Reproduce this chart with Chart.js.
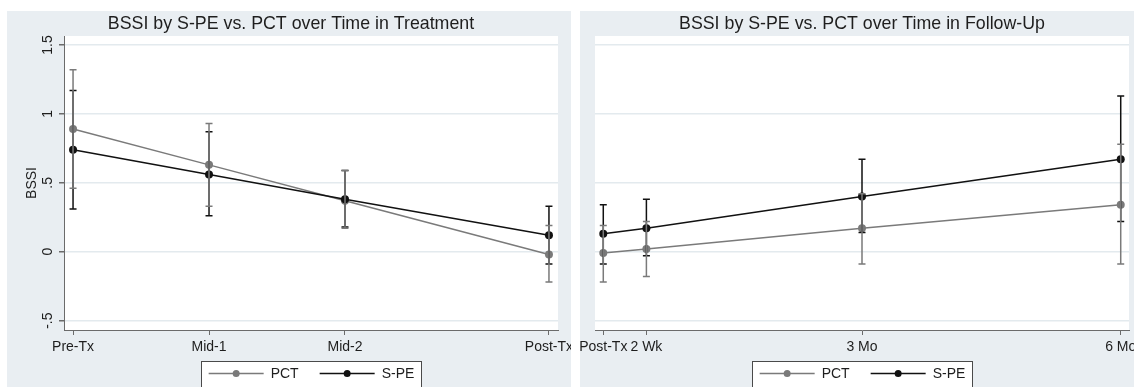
<!DOCTYPE html>
<html>
<head>
<meta charset="utf-8">
<script src="https://cdn.jsdelivr.net/npm/chart.js@4"></script>
<style>
  body { margin: 0; background: #fff; width: 1134px; height: 387px; overflow: hidden; position: relative; }
  canvas { position: absolute; background: #e9eef2; }
  #left { left: 7px; top: 11px; }
  #right { left: 580px; top: 11px; }
</style>
</head>
<body>
<canvas id="left" width="564" height="376"></canvas>
<canvas id="right" width="554" height="376"></canvas>
<script>
// y axis (shared)
const yTickValues = [-0.5, 0, 0.5, 1, 1.5];
const yTickLabels = ['-.5', '0', '.5', '1', '1.5'];

// treatment phase
const txTimes = [0, 1, 2, 3.5];
const txLabels = ['Pre-Tx', 'Mid-1', 'Mid-2', 'Post-Tx'];
const pctTx = [0.89, 0.63, 0.37, -0.02];
const pctTxLow = [0.46, 0.33, 0.17, -0.22];
const pctTxHigh = [1.32, 0.93, 0.59, 0.19];
const speTx = [0.74, 0.56, 0.38, 0.12];
const speTxLow = [0.31, 0.26, 0.18, -0.09];
const speTxHigh = [1.17, 0.87, 0.59, 0.33];

// follow-up phase (weeks after treatment)
const fuTimes = [0, 2, 12, 24];
const fuLabels = ['Post-Tx', '2 Wk', '3 Mo', '6 Mo'];
const pctFu = [-0.01, 0.02, 0.17, 0.34];
const pctFuLow = [-0.22, -0.18, -0.09, -0.09];
const pctFuHigh = [0.19, 0.22, 0.42, 0.78];
const speFu = [0.13, 0.17, 0.40, 0.67];
const speFuLow = [-0.09, -0.03, 0.14, 0.22];
const speFuHigh = [0.34, 0.38, 0.67, 1.13];

const FONT = "'Liberation Sans', Arial, sans-serif";
const PCT_COLOR = '#7a7a7a';
const SPE_COLOR = '#111111';
const AXIS_COLOR = '#6b6b6b';
const GRID_COLOR = '#e3eaee';
const TEXT_COLOR = '#1e1e1e';

function pts(xs, ys) {
    return xs.map((x, i) => ({ x: x, y: ys[i] }));
}

// white plot region
const plotBg = {
    id: 'plotBg',
    beforeDraw(chart) {
        const a = chart.chartArea;
        chart.ctx.save();
        chart.ctx.fillStyle = '#ffffff';
        chart.ctx.fillRect(a.left, a.top, a.right - a.left, a.bottom - a.top);
        chart.ctx.restore();
    }
};

// confidence bars, using the chart's own scales
const errorBars = {
    id: 'errorBars',
    afterDatasetsDraw(chart) {
        const ctx = chart.ctx;
        const xs = chart.scales.x, ys = chart.scales.y;
        ctx.save();
        chart.data.datasets.slice().reverse().forEach(ds => {
            ctx.strokeStyle = ds.borderColor;
            ctx.lineWidth = 1.5;
            ds.data.forEach((p, i) => {
                const px = xs.getPixelForValue(p.x);
                const lo = ys.getPixelForValue(ds.low[i]);
                const hi = ys.getPixelForValue(ds.high[i]);
                ctx.beginPath();
                ctx.moveTo(px, lo); ctx.lineTo(px, hi);
                ctx.moveTo(px - 3.5, lo); ctx.lineTo(px + 3.5, lo);
                ctx.moveTo(px - 3.5, hi); ctx.lineTo(px + 3.5, hi);
                ctx.stroke();
            });
        });
        ctx.restore();
    }
};

// Stata style boxed legend under the axis
const boxLegend = {
    id: 'boxLegend',
    afterDraw(chart) {
        const ctx = chart.ctx;
        const a = chart.chartArea;
        ctx.save();
        ctx.font = '14px ' + FONT;
        const items = chart.data.datasets.map(ds => ({ label: ds.label, color: ds.borderColor, w: ctx.measureText(ds.label).width }));
        const lineLen = 55, gapText = 7, gapItem = 21, pad = 6;
        let total = pad * 2;
        items.forEach((it, i) => { total += lineLen + gapText + it.w + (i ? gapItem : 0); });
        const boxW = Math.max(total, 220);
        const cx = (a.left + a.right) / 2;
        const bx = Math.round(cx - boxW / 2) + 0.5, by = 350.5;
        ctx.fillStyle = '#ffffff';
        ctx.fillRect(bx, by, boxW, 30);
        ctx.strokeStyle = '#4a4a4a';
        ctx.lineWidth = 1;
        ctx.strokeRect(bx, by, boxW, 30);
        let x = bx + (boxW - total) / 2 + pad;
        const cy = by + 12;
        items.forEach((it, i) => {
            if (i) x += gapItem;
            ctx.strokeStyle = it.color;
            ctx.lineWidth = 1.5;
            ctx.beginPath(); ctx.moveTo(x, cy); ctx.lineTo(x + lineLen, cy); ctx.stroke();
            ctx.fillStyle = it.color;
            ctx.beginPath(); ctx.arc(x + lineLen / 2, cy, 3.5, 0, Math.PI * 2); ctx.fill();
            x += lineLen + gapText;
            ctx.fillStyle = TEXT_COLOR;
            ctx.textBaseline = 'middle';
            ctx.fillText(it.label, x, cy + 1);
            x += it.w;
        });
        ctx.restore();
    }
};

function makeChart(id, title, times, labels, pct, pctLow, pctHigh, spe, speLow, speHigh, side) {
    const showY = side === 'left';
    const xMin = times[0] - (times[times.length - 1] - times[0]) * (showY ? 0.019 : 0.016);
    const xMax = times[times.length - 1] + (times[times.length - 1] - times[0]) * (showY ? 0.019 : 0.016);
    return new Chart(document.getElementById(id), {
        type: 'line',
        data: {
            datasets: [
                { label: 'PCT', data: pts(times, pct), low: pctLow, high: pctHigh,
                  borderColor: PCT_COLOR, backgroundColor: PCT_COLOR, borderWidth: 1.5,
                  pointRadius: 4, pointBorderWidth: 0, order: 1, tension: 0 },
                { label: 'S-PE', data: pts(times, spe), low: speLow, high: speHigh,
                  borderColor: SPE_COLOR, backgroundColor: SPE_COLOR, borderWidth: 1.5,
                  pointRadius: 4, pointBorderWidth: 0, order: 0, tension: 0 }
            ]
        },
        options: {
            responsive: false,
            animation: false,
            events: [],
            layout: { padding: showY ? { left: 17, right: 13, top: 0, bottom: 27 } : { left: 15, right: 5, top: 0, bottom: 27 } },
            plugins: {
                legend: { display: false },
                tooltip: { enabled: false },
                title: {
                    display: true, text: title, color: TEXT_COLOR,
                    font: { family: FONT, size: 17.8, weight: 'normal', lineHeight: 1.2 },
                    padding: { top: 2.5, bottom: 1.14 }
                }
            },
            scales: {
                x: {
                    type: 'linear', min: xMin, max: xMax,
                    afterBuildTicks: s => { s.ticks = times.map(v => ({ value: v })); },
                    afterFit: s => { s.height = 30; s.paddingLeft = 0; s.paddingRight = 0; },
                    grid: { drawOnChartArea: false, drawTicks: true, tickLength: 5, tickColor: AXIS_COLOR, tickWidth: 1 },
                    border: { display: true, color: AXIS_COLOR, width: 1 },
                    ticks: {
                        autoSkip: false, maxRotation: 0, minRotation: 0, padding: 4,
                        color: TEXT_COLOR, font: { family: FONT, size: 14 },
                        callback: v => labels[times.indexOf(v)]
                    }
                },
                y: {
                    min: -0.568, max: 1.565,
                    afterBuildTicks: s => { s.ticks = yTickValues.map(v => ({ value: v })); },
                    afterFit: s => { s.width = showY ? 40 : 0; s.paddingTop = 0; s.paddingBottom = 0; },
                    grid: { color: GRID_COLOR, lineWidth: 1.5, drawTicks: showY, tickLength: 5, tickColor: AXIS_COLOR },
                    border: { display: showY, color: AXIS_COLOR, width: 1 },
                    title: {
                        display: showY, text: 'BSSI', color: TEXT_COLOR,
                        font: { family: FONT, size: 14, lineHeight: 1.2 }, padding: 0
                    },
                    ticks: {
                        display: showY, minRotation: 90, maxRotation: 90, crossAlign: 'center', padding: 1,
                        color: TEXT_COLOR, font: { family: FONT, size: 14 },
                        callback: v => yTickLabels[yTickValues.indexOf(v)]
                    }
                }
            }
        },
        plugins: [plotBg, errorBars, boxLegend]
    });
}

makeChart('left', 'BSSI by S-PE vs. PCT over Time in Treatment', txTimes, txLabels,
    pctTx, pctTxLow, pctTxHigh, speTx, speTxLow, speTxHigh, 'left');
makeChart('right', 'BSSI by S-PE vs. PCT over Time in Follow-Up', fuTimes, fuLabels,
    pctFu, pctFuLow, pctFuHigh, speFu, speFuLow, speFuHigh, 'right');
</script>
</body>
</html>
